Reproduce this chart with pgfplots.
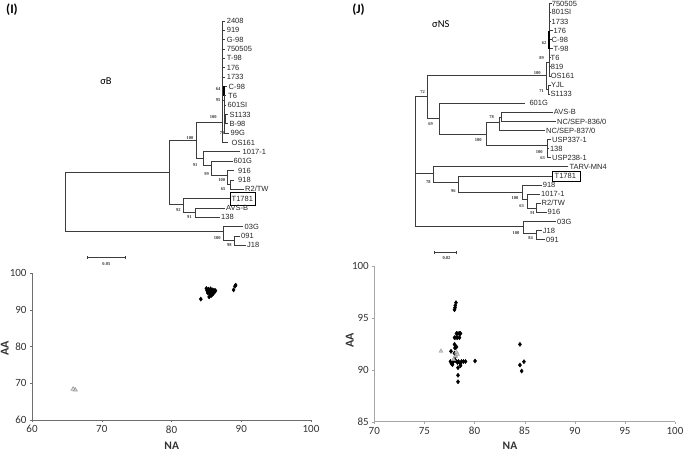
\documentclass[border=0pt]{standalone}
\usepackage{pgfplots}
\pgfplotsset{compat=1.18}
\usepackage{fontspec}
\setmainfont{Carlito}
\newfontfamily\arial{Liberation Sans}
\newfontfamily\tms{Liberation Serif}
\definecolor{treec}{HTML}{3C3C3C}
\definecolor{tickc}{HTML}{333333}
\definecolor{axc}{HTML}{6E6E6E}
\definecolor{axcj}{HTML}{A6A6A6}
\definecolor{trig}{HTML}{A0A0A0}
\newcommand{\br}[1]{\addplot[treec, line width=0.85bp] coordinates {#1};}
\newcommand{\tx}[3]{\node[anchor=west, inner sep=0pt, font=\arial\fontsize{7.5bp}{8bp}\selectfont, text=black!85] at (axis cs:#1,#2) {#3};}
\newcommand{\bs}[3]{\node[inner sep=0pt, font=\tms\bfseries\fontsize{4.5bp}{5bp}\selectfont, text=black!80] at (axis cs:#1,#2) {#3};}
\begin{document}
\begin{tikzpicture}[x=1bp,y=1bp]
\useasboundingbox (0bp,0bp) rectangle (685bp,451bp);
\begin{axis}[at={(0bp,0bp)}, anchor=south west, scale only axis, width=685bp, height=451bp,
  xmin=0, xmax=685, ymin=0, ymax=451, y dir=reverse, hide axis, clip=false]
% ---------------- Tree I ----------------
\br{(225,21) (222.5,21) (222.5,142.6) (228,142.6)}
\br{(222.5,30.4) (224.5,30.4)}
\br{(222.5,39.7) (224.5,39.7)}
\br{(222.5,49.1) (224.5,49.1)}
\br{(222.5,58.4) (224.5,58.4)}
\br{(222.5,67.8) (224.5,67.8)}
\br{(222.5,77.1) (224.5,77.1)}
\br{(226.5,86.5) (224,86.5) (224,133.2) (229,133.2)}
\addplot[black, line width=1.6bp] coordinates {(224,86.5) (224,95.8)};
\br{(224,95.8) (226,95.8)}
\br{(224,105.2) (225.5,105.2)}
\br{(228,114.5) (225.5,114.5) (225.5,123.9) (228,123.9)}
\br{(224,119) (225.5,119)}
\br{(222.5,100) (224,100)}
\br{(222.5,122.3) (196.7,122.3) (196.7,158) (203.3,158)}
\br{(240,151.9) (203.3,151.9) (203.3,165) (211.7,165)}
\br{(232.7,161.3) (211.7,161.3) (211.7,175.5) (227.7,175.5)}
\br{(234,170.6) (227.7,170.6) (227.7,184.6) (230,184.6)}
\br{(234,180) (230,180) (230,189.3) (244,189.3)}
\br{(196.7,140.7) (169.3,140.7) (169.3,204) (183.3,204)}
\br{(230,198.7) (183.3,198.7) (183.3,212.7) (195,212.7)}
\br{(225,208) (195,208) (195,217.4) (220,217.4)}
\br{(243.3,226.7) (223.3,226.7) (223.3,240.7) (234,240.7)}
\br{(240,236.1) (234,236.1) (234,245.4) (246,245.4)}
\br{(169.3,172.7) (65,172.7) (65,231.7) (223.3,231.7)}
\addplot[black, line width=0.8bp] coordinates {(230,192.2) (255,192.2) (255,205.2) (230,205.2) (230,192.2)};
\tx{226.7}{21}{2408}
\tx{226.7}{30.4}{919}
\tx{226.7}{39.7}{G-98}
\tx{226.7}{49.1}{750505}
\tx{226.7}{58.4}{T-98}
\tx{226.7}{67.8}{176}
\tx{226.7}{77.1}{1733}
\tx{228.5}{86.5}{C-98}
\tx{228}{95.8}{T6}
\tx{227.5}{105.2}{601SI}
\tx{229.3}{114.5}{S1133}
\tx{229.3}{123.9}{B-98}
\tx{230.5}{133.2}{99G}
\tx{231.5}{142.6}{OS161}
\tx{242.5}{151.9}{1017-1}
\tx{233.5}{161.3}{601G}
\tx{238}{170.6}{916}
\tx{238}{180}{918}
\tx{245}{189.3}{R2/TW}
\tx{231.5}{198.7}{T1781}
\tx{226}{208}{AVS-B}
\tx{221}{217.4}{138}
\tx{244.5}{226.7}{03G}
\tx{241}{236.1}{091}
\tx{247}{245.4}{J18}
\bs{218}{89.3}{64}
\bs{218}{100}{95}
\bs{213.3}{117.3}{100}
\bs{222}{133.3}{70}
\bs{190}{138.3}{100}
\bs{195}{165.5}{91}
\bs{206.7}{174}{99}
\bs{221.7}{180.5}{100}
\bs{223}{189.3}{65}
\bs{178.3}{210}{92}
\bs{189.3}{217.3}{91}
\bs{217.3}{238.3}{100}
\bs{229.3}{245}{98}
\addplot[treec, line width=0.7bp] coordinates {(87.7,257.3) (125,257.3)};
\addplot[treec, line width=0.7bp] coordinates {(87.7,255.8) (87.7,258.8)};
\addplot[treec, line width=0.7bp] coordinates {(125,255.8) (125,258.8)};
\bs{106.4}{264.3}{0.05}
% ---------------- Tree J ----------------
\br{(551.5,3.3) (549,3.3) (549,76.0) (550.5,76.0)}
\br{(549,12.4) (551,12.4)}
\br{(549,21.5) (551,21.5)}
\br{(549,30.6) (552.5,30.6)}
\br{(549,39.7) (551.5,39.7)}
\br{(549,48.8) (552.5,48.8)}
\addplot[black, line width=1.6bp] coordinates {(549,30.6) (549,48.8)};
\br{(549,57.8) (550.5,57.8)}
\br{(549,66.9) (550.5,66.9)}
\br{(546.5,62) (549,62)}
\br{(546.5,62) (546.5,89.6) (548,89.6)}
\br{(550.5,85.1) (548,85.1) (548,94.2) (550,94.2)}
\br{(546.5,75) (427.3,75) (427.3,118.3) (439,118.3)}
\br{(525,103.3) (439,103.3) (439,134.3) (486,134.3)}
\br{(499,122.7) (486,122.7) (486,145) (547.3,145)}
\br{(501.7,117.2) (499,117.2) (499,130.6) (545,130.6)}
\br{(552.7,112.4) (501.7,112.4) (501.7,121.5) (556,121.5)}
\br{(551,139.7) (547.3,139.7) (547.3,157.8) (551,157.8)}
\br{(547.3,148.7) (549.3,148.7)}
\br{(568.3,166.9) (433.3,166.9) (433.3,182.7) (458.3,182.7)}
\br{(552.7,176) (458.3,176) (458.3,192.7) (522.7,192.7)}
\br{(541.7,185.1) (522.7,185.1) (522.7,199.3) (527.7,199.3)}
\br{(540,194.2) (527.7,194.2) (527.7,208) (536.7,208)}
\br{(540.5,203.3) (536.7,203.3) (536.7,212.4) (546.5,212.4)}
\br{(556,221.5) (523.3,221.5) (523.3,233.3) (536,233.3)}
\br{(541.7,230.6) (536,230.6) (536,239.7) (545,239.7)}
\br{(427.3,96.7) (415,96.7) (415,226.7) (523.3,226.7)}
\br{(415,173.3) (433.3,173.3)}
\addplot[black, line width=0.8bp] coordinates {(552.7,171.2) (580,171.2) (580,181.2) (552.7,181.2) (552.7,171.2)};
\tx{551.7}{3.8}{750505}
\tx{551.5}{12.4}{801SI}
\tx{551.5}{21.5}{1733}
\tx{553.3}{30.6}{176}
\tx{551.5}{39.7}{C-98}
\tx{553.3}{48.8}{T-98}
\tx{550.5}{57.8}{T6}
\tx{550.7}{66.9}{819}
\tx{550.7}{76.0}{OS161}
\tx{550.9}{85.1}{YJL}
\tx{550.5}{94.2}{S1133}
\tx{529.3}{103.3}{601G}
\tx{553.7}{112.4}{AVS-B}
\tx{557}{121.5}{NC/SEP-836/0}
\tx{546}{130.6}{NC/SEP-837/0}
\tx{552}{139.7}{USP337-1}
\tx{549.8}{148.7}{138}
\tx{552}{157.8}{USP238-1}
\tx{569.3}{166.9}{TARV-MN4}
\tx{554.5}{176}{T1781}
\tx{542.7}{185.1}{918}
\tx{541}{194.2}{1017-1}
\tx{541.5}{203.3}{R2/TW}
\tx{547.5}{212.4}{916}
\tx{557}{221.5}{03G}
\tx{542.7}{230.6}{J18}
\tx{546}{239.7}{091}
\bs{544}{42.7}{62}
\bs{541.7}{58.3}{89}
\bs{537.3}{72.7}{100}
\bs{541.7}{90.7}{71}
\bs{422.7}{91.7}{72}
\bs{430.7}{124}{69}
\bs{491.7}{117.3}{78}
\bs{478.3}{140}{100}
\bs{539.3}{151.7}{100}
\bs{542.7}{158.3}{63}
\bs{428.3}{181.7}{78}
\bs{453.3}{191}{96}
\bs{515}{197.7}{100}
\bs{521.7}{206}{63}
\bs{532.7}{212.7}{91}
\bs{516}{233.3}{100}
\bs{530.7}{238.3}{84}
\addplot[treec, line width=0.7bp] coordinates {(434,252.3) (456,252.3)};
\addplot[treec, line width=0.7bp] coordinates {(434,250.8) (434,253.8)};
\addplot[treec, line width=0.7bp] coordinates {(456,250.8) (456,253.8)};
\bs{446.5}{258.5}{0.02}
% ---------------- titles and labels ----------------
\node[font=\bfseries\fontsize{13bp}{14bp}\selectfont] at (axis cs:12,10) {(I)};
\node[font=\bfseries\fontsize{13bp}{14bp}\selectfont] at (axis cs:358.5,10) {(J)};
\node[font=\fontsize{10.5bp}{12bp}\selectfont] at (axis cs:106,80.7) {σB};
\node[font=\fontsize{10.5bp}{12bp}\selectfont] at (axis cs:440.8,24) {σNS};
\node[inner sep=0pt, font=\bfseries\fontsize{11.5bp}{12bp}\selectfont, text=tickc] at (axis cs:171.7,445.8) {NA};
\node[anchor=base, inner sep=0pt, font=\bfseries\fontsize{12bp}{13bp}\selectfont, text=tickc, rotate=90] at (axis cs:8.7,348) {AA};
\node[inner sep=0pt, font=\bfseries\fontsize{11.5bp}{12bp}\selectfont, text=tickc] at (axis cs:510,445.8) {NA};
\node[anchor=base, inner sep=0pt, font=\bfseries\fontsize{12bp}{13bp}\selectfont, text=tickc, rotate=90] at (axis cs:353.5,340) {AA};
\end{axis}
% ---------------- scatter I ----------------
\begin{axis}[at={(32bp,31bp)}, anchor=south west, scale only axis, width=279bp, height=147bp,
  xmin=60, xmax=100, ymin=60, ymax=100,
  xtick={60,70,80,90,100}, ytick={60,70,80,90,100},
  axis lines=left, axis line style={-, draw=axc, line width=0.9bp},
  tick style={draw=axc}, major tick length=2bp, tick align=outside,
  tick label style={font=\fontsize{11bp}{12bp}\selectfont, text=tickc},
  /pgf/number format/assume math mode=true, clip=false]
\addplot[only marks, mark=diamond*, mark size=2.1bp, black] coordinates {
(84.2,92.9)
(85.0,95.8) (85.1,95.2) (85.3,95.6) (85.4,94.9) (85.5,95.3) (85.6,95.7) (85.7,95.1)
(85.8,94.6) (85.9,95.4) (86.0,95.0) (86.1,95.3) (86.2,94.9) (86.3,95.2) (85.5,94.3)
(85.7,93.9) (85.4,93.5) (85.9,94.2) (86.0,94.5) (85.2,94.6) (85.6,94.7)
(88.9,95.4) (89.1,96.4) (89.2,96.7)
};
\addplot[only marks, mark=triangle, mark size=2.3bp, draw=trig, line width=0.8bp] coordinates {
(65.9,68.4) (66.2,68.2)
};
\end{axis}
% ---------------- scatter J ----------------
\begin{axis}[at={(374.3bp,29.3bp)}, anchor=south west, scale only axis, width=300.7bp, height=155.7bp,
  xmin=70, xmax=100, ymin=85, ymax=100,
  xtick={70,75,...,100}, ytick={85,90,95,100},
  axis lines=left, axis line style={-, draw=axcj, line width=1.3bp},
  tick style={draw=axcj}, major tick length=2bp, tick align=outside,
  tick label style={font=\fontsize{11bp}{12bp}\selectfont, text=tickc},
  /pgf/number format/assume math mode=true, clip=false]
\addplot[only marks, mark=diamond*, mark size=2.1bp, black] coordinates {
(78.15,96.47) (78.08,96.2) (78.05,95.98) (78.0,95.78)
(78.2,93.5) (78.35,93.5) (78.5,93.5) (78.6,93.5) (78.0,93.1) (78.15,93.1) (78.3,93.1) (78.5,93.1)
(78.0,92.45) (78.1,92.3) (78.05,92.1) (78.2,92.2)
(77.65,91.78) (78.0,91.6) (78.1,91.3)
(77.6,90.8) (77.7,90.6) (77.8,90.5) (77.9,90.8) (78.1,90.9) (78.3,90.7) (78.4,90.8)
(78.6,90.6) (78.7,90.8) (78.9,90.8) (79.1,90.8) (78.0,91.0) (78.6,90.4)
(80.05,90.85)
(78.35,90.2) (78.35,89.47) (78.35,88.85)
(84.53,92.45) (84.53,90.46) (84.93,90.78) (84.7,89.88)
};
\addplot[only marks, mark=triangle*, mark size=2.3bp, draw=trig, fill=trig!60] coordinates {
(76.65,91.8) (78.2,91.7) (77.9,91.0) (78.1,91.3) (78.3,91.5)
};
\end{axis}
\end{tikzpicture}
\end{document}
